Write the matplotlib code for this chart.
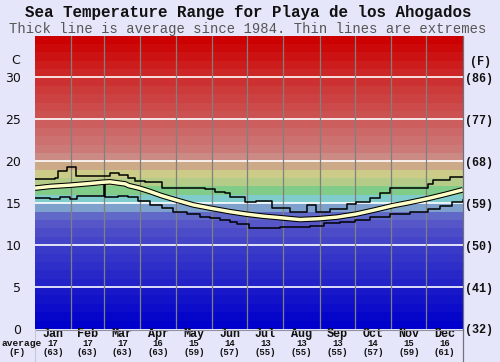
import matplotlib
matplotlib.use("Agg")
import matplotlib.pyplot as plt
import matplotlib.transforms as mtransforms
from matplotlib.lines import Line2D

# ---------------- data ----------------
months = ["Jan", "Feb", "Mar", "Apr", "May", "Jun", "Jul", "Aug", "Sep", "Oct", "Nov", "Dec"]
month_days = [31, 28, 31, 30, 31, 30, 31, 31, 30, 31, 30, 31]
avg_c = ["17", "17", "17", "16", "15", "14", "13", "13", "13", "14", "15", "16"]
avg_f = ["(63)", "(63)", "(63)", "(63)", "(59)", "(57)", "(55)", "(55)", "(55)", "(57)", "(59)", "(61)"]
c_ticks = [0, 5, 10, 15, 20, 25, 30]
f_labels = ["(32)", "(41)", "(50)", "(59)", "(68)", "(77)", "(86)"]

# average line (day of year, deg C)
avg_day = [0, 13, 30, 47, 58, 64, 77, 80, 89, 98, 108, 120, 135, 150, 166, 180, 195,
           211, 226, 242, 258, 274, 290, 305, 320, 335, 350, 365]
avg_val = [16.8, 17.0, 17.15, 17.35, 17.5, 17.55, 17.3, 17.1, 16.8, 16.4, 15.9, 15.4, 14.8,
           14.4, 14.0, 13.7, 13.45, 13.25, 13.05, 13.15, 13.35, 13.7, 14.2, 14.7, 15.1,
           15.55, 16.05, 16.6]

# maximum (stepped)
max_day = [0, 17, 20, 27, 35, 64, 72, 79, 85, 94, 108, 145, 154, 162, 166, 179, 189,
           202, 218, 232, 240, 252, 266, 274, 286, 294, 303, 318, 335, 340, 354, 365]
max_val = [17.9, 18.0, 18.9, 19.3, 18.3, 18.6, 18.4, 18.0, 17.7, 17.5, 16.8, 16.7, 16.3,
           16.2, 15.8, 15.2, 15.3, 14.4, 14.0, 14.8, 14.0, 14.3, 14.9, 15.2, 15.6, 16.2,
           16.8, 16.8, 17.3, 17.8, 18.1, 18.1]

# minimum (stepped)
min_day = [0, 13, 21, 30, 36, 59, 60, 71, 79, 88, 98, 108, 118, 130, 141, 149, 158, 166,
           172, 183, 200, 209, 235, 247, 260, 273, 286, 303, 320, 335, 346, 356, 365]
min_val = [15.6, 15.5, 15.8, 15.5, 15.9, 17.6, 15.7, 15.9, 15.8, 15.3, 14.8, 14.4, 14.0,
           13.7, 13.4, 13.2, 13.0, 12.8, 12.5, 12.1, 12.0, 12.2, 12.3, 12.6, 12.8, 13.0,
           13.3, 13.7, 14.0, 14.3, 14.7, 15.1, 15.4]

# ---------------- style ----------------
band_colors = [
    "#0000cc", "#0606cb", "#0c0cca", "#1212c9", "#1818c8",
    "#2222c8", "#2828c8", "#2e2ec8", "#3434c8", "#3a3ac8",
    "#4444c8", "#4c4cc8", "#5656c8", "#6068c8", "#7ea0cc",
    "#80cccc", "#80cc88", "#b4cc88", "#cccc88", "#ccaa88",
    "#cc8a84", "#cc7a78", "#cc7070", "#cc6868", "#cc5e5e",
    "#cc5252", "#cc4a4a", "#cc4242", "#cc3a3a", "#cc3030",
    "#cc2626", "#cc1c1c", "#cc1212", "#cc0808", "#cc0000",
]
bg = "#e6e6fa"
W, H = 500, 362

fig = plt.figure(figsize=(W / 100, H / 100), dpi=100, facecolor=bg)
ax = fig.add_axes([35 / W, 1 - 329 / H, (462.7 - 35) / W, (329 - 35.5) / H])
ax.set_xlim(0, 365)
ax.set_ylim(0, 35)

for i, col in enumerate(band_colors):
    ax.axhspan(i, i + 1, color=col, lw=0, zorder=0)
for t in c_ticks[1:]:
    ax.axhline(t, color="white", lw=1.2, zorder=1)

bounds = [0]
for d in month_days:
    bounds.append(bounds[-1] + d)
for b in bounds[1:-1]:
    ax.axvline(b, color="#808080", lw=0.9, zorder=1)

ax.step(max_day, max_val, where="post", color="black", lw=1.1, zorder=3)
ax.step(min_day, min_val, where="post", color="black", lw=1.1, zorder=3)
ax.plot(avg_day, avg_val, color="black", lw=4.0, zorder=4, solid_capstyle="butt")
ax.plot(avg_day, avg_val, color="#ffffc8", lw=2.5, zorder=5, solid_capstyle="butt")

for s in ax.spines.values():
    s.set_visible(False)
ax.set_xticks([])
ax.set_yticks(c_ticks)
ax.set_yticklabels([str(t) for t in c_ticks], fontsize=9, color="#111111",
                   family="DejaVu Sans")
ax.tick_params(axis="y", length=0, pad=10)

ax2 = ax.twinx()
ax2.set_ylim(0, 35)
ax2.set_yticks(c_ticks)
ax2.set_yticklabels(f_labels, fontsize=8.5, family="Liberation Mono", weight="bold",
                    color="#111111")
ax2.tick_params(axis="y", length=0, pad=2)
for s in ax2.spines.values():
    s.set_visible(False)

# frame lines
fig.add_artist(Line2D([35 / W, 462.7 / W], [1 - 329.5 / H] * 2, color="#9090a0", lw=0.8))
fig.add_artist(Line2D([462.7 / W] * 2, [0, 1 - 35.5 / H], color="#707080", lw=0.9))
fig.add_artist(Line2D([35 / W] * 2, [0, 1 - 329 / H], color="#c8c8dc", lw=0.8))

# titles
fig.text(248 / W, 1 - 12.5 / H, "Sea Temperature Range for Playa de los Ahogados",
         ha="center", va="center", fontsize=11.4, weight="bold", family="Liberation Mono",
         color="#111111")
fig.text(248 / W, 1 - 28.5 / H, "Thick line is average since 1984. Thin lines are extremes",
         ha="center", va="center", fontsize=10, family="Liberation Mono", color="#555555")
fig.text(16 / W, 1 - 61 / H, "C", ha="center", va="center", fontsize=9,
         family="DejaVu Sans", color="#111111")
fig.text(480 / W, 1 - 62 / H, "(F)", ha="center", va="center", fontsize=8.5,
         family="Liberation Mono", weight="bold", color="#111111")

# bottom labels
tr = mtransforms.blended_transform_factory(ax.transData, fig.transFigure)
for i, m in enumerate(months):
    xc = bounds[i] + month_days[i] / 2
    ax.text(xc, 1 - 334 / H, m, transform=tr, ha="center", va="center", fontsize=8.5,
            family="Liberation Mono", weight="bold", color="#111111", clip_on=False)
    ax.text(xc, 1 - 343 / H, avg_c[i], transform=tr, ha="center", va="center", fontsize=6.5,
            family="Liberation Mono", weight="bold", color="#111111", clip_on=False)
    ax.text(xc, 1 - 352.5 / H, avg_f[i], transform=tr, ha="center", va="center", fontsize=6.5,
            family="Liberation Mono", weight="bold", color="#111111", clip_on=False)
fig.text(22 / W, 1 - 343 / H, "average", ha="center", va="center", fontsize=6.8,
         family="Liberation Mono", weight="bold", color="#111111")
fig.text(17 / W, 1 - 352.5 / H, "(F)", ha="center", va="center", fontsize=6.8,
         family="Liberation Mono", weight="bold", color="#111111")

fig.savefig("out.png", dpi=100, facecolor=bg)
